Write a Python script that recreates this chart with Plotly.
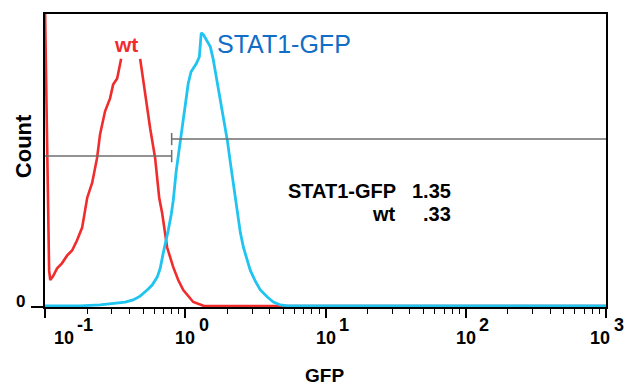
import math
import plotly.graph_objects as go

# ---------------- data ----------------
wt_gfp = [0.100, 0.107, 0.109, 0.114, 0.122, 0.132, 0.144, 0.156, 0.169, 0.184,
          0.200, 0.217, 0.235, 0.247, 0.268, 0.291, 0.306, 0.327, 0.349, 0.405,
          0.477, 0.518, 0.562, 0.610, 0.652, 0.685, 0.743, 0.821, 0.891, 0.968,
          1.14, 1.35, 1.64, 1000]
wt_count = [102, 12.5, 9.2, 10.5, 13.2, 14.9, 17.6, 19.3, 22.7, 27.1,
            37.3, 42.4, 50.8, 59.0, 66.8, 71.2, 75.9, 78.0, 84.7, None,
            84.7, 72.5, 61.0, 50.8, 37.3, 31.9, 20.3, 13.6, 9.2, 5.8,
            1.7, 0.4, 0.3, 0.3]

stat1_gfp = [0.100, 0.178, 0.247, 0.291, 0.327, 0.373, 0.425, 0.477, 0.535, 0.581,
             0.631, 0.663, 0.696, 0.732, 0.756, 0.794, 0.821, 0.862, 0.921, 0.968,
             1.00, 1.05, 1.10, 1.20, 1.26, 1.30, 1.35, 1.44, 1.51, 1.58,
             1.72, 1.87, 2.00, 2.09, 2.20, 2.35, 2.47, 2.60, 2.77, 2.91,
             3.16, 3.43, 3.85, 4.25, 4.77, 5.36, 6.63, 1000]
stat1_count = [0.4, 0.4, 0.7, 1.0, 1.4, 1.7, 2.4, 3.7, 5.8, 7.5,
               10.2, 13.2, 18.3, 22.7, 26.1, 31.5, 36.3, 46.4, 56.6, 64.1,
               70.2, 76.3, 80.3, 83.1, 85.4, 93.6, 92.9, 90.8, 88.8, 84.7,
               74.6, 64.4, 56.6, 49.8, 42.4, 31.2, 25.4, 20.3, 15.9, 12.5,
               8.8, 5.8, 3.4, 1.7, 0.7, 0.4, 0.4, 0.4]

# gates: name, low, high, level (count units), cap position
gate_names = ["wt", "STAT1-GFP"]
gate_low = [0.1, 0.8]
gate_high = [0.8, 1000]
gate_level = [51.5, 57.3]
gate_cap_at = [0.8, 0.8]

stat_names = ["STAT1-GFP", "wt"]
stat_values = ["1.35", ".33"]

tick_vals = [0.1, 1, 10, 100, 1000]
tick_base = ["10", "10", "10", "10", "10"]
tick_exp = ["-1", "0", "1", "2", "3"]
minor_vals = [m * d for d in (0.1, 1, 10, 100) for m in range(2, 10)]

# ---------------- style ----------------
RED = "#f02c2c"
CYAN = "#20c4f0"
BLUE = "#106ec6"
GATE = "#6e6e6e"
FONT = "Arial, Liberation Sans, Helvetica, sans-serif"
CAP_HALF = 2.1

fig = go.Figure()
fig.add_trace(go.Scatter(x=wt_gfp, y=wt_count, mode="lines",
                         line=dict(color=RED, width=2.6), connectgaps=False,
                         hoverinfo="skip", showlegend=False))
fig.add_trace(go.Scatter(x=stat1_gfp, y=stat1_count, mode="lines",
                         line=dict(color=CYAN, width=2.8),
                         hoverinfo="skip", showlegend=False))

gx, gy = [], []
for lo, hi, lv, cap in zip(gate_low, gate_high, gate_level, gate_cap_at):
    gx += [lo, hi, None, cap, cap, None]
    gy += [lv, lv, None, lv - CAP_HALF, lv + CAP_HALF, None]
fig.add_trace(go.Scatter(x=gx, y=gy, mode="lines",
                         line=dict(color=GATE, width=1.5),
                         hoverinfo="skip", showlegend=False))

ann = []
# tick labels (base + same-size exponent)
base_shift = [19, 0, 0, 0, -6]
exp_shift = [40, 19, 18, 18, 13]
for v, b, e, bs, es in zip(tick_vals, tick_base, tick_exp, base_shift, exp_shift):
    ann.append(dict(x=math.log10(v), xref="x", y=0, yref="paper", text=b,
                    showarrow=False, xanchor="center", yanchor="middle",
                    xshift=bs, yshift=-31,
                    font=dict(family=FONT, size=18, color="black", weight="bold")))
    ann.append(dict(x=math.log10(v), xref="x", y=0, yref="paper", text=e,
                    showarrow=False, xanchor="center", yanchor="middle",
                    xshift=es, yshift=-18,
                    font=dict(family=FONT, size=18, color="black", weight="bold")))

# y zero label
ann.append(dict(x=0, xref="paper", y=0, yref="y", text="0", showarrow=False,
                xanchor="center", yanchor="middle", xshift=-25, yshift=6,
                font=dict(family=FONT, size=17, color="black", weight="bold")))
# axis titles
ann.append(dict(x=0, xref="paper", y=0.549, yref="paper", text="Count",
                showarrow=False, textangle=-90, xanchor="center", yanchor="middle",
                xshift=-22,
                font=dict(family=FONT, size=22, color="black", weight="bold")))
ann.append(dict(x=0.499, xref="paper", y=0, yref="paper", text="GFP",
                showarrow=False, xanchor="center", yanchor="middle", yshift=-68,
                font=dict(family=FONT, size=19, color="black", weight="bold")))
# curve labels
ann.append(dict(x=0.1435, xref="paper", y=0.895, yref="paper", text="wt",
                showarrow=False, xanchor="center", yanchor="middle",
                font=dict(family=FONT, size=21, color=RED, weight="bold")))
ann.append(dict(x=0.303, xref="paper", y=0.898, yref="paper", text="STAT1-GFP",
                showarrow=False, xanchor="left", yanchor="middle",
                font=dict(family=FONT, size=25, color=BLUE)))
# stats
for i, (n, v) in enumerate(zip(stat_names, stat_values)):
    yy = 0.397 - i * 0.078
    ann.append(dict(x=0.629, xref="paper", y=yy, yref="paper", text=n,
                    showarrow=False, xanchor="right", yanchor="middle",
                    font=dict(family=FONT, size=20, color="black", weight="bold")))
    ann.append(dict(x=0.727, xref="paper", y=yy, yref="paper", text=v,
                    showarrow=False, xanchor="right", yanchor="middle",
                    font=dict(family=FONT, size=20, color="black", weight="bold")))

fig.update_layout(
    width=630, height=385,
    margin=dict(l=45, r=24, t=12, b=78),
    paper_bgcolor="white", plot_bgcolor="white",
    annotations=ann,
    xaxis=dict(type="log", range=[-1, 3], showgrid=False, zeroline=False,
               showline=True, linecolor="black", linewidth=2, mirror=True,
               tickmode="array", tickvals=tick_vals, showticklabels=False,
               ticks="outside", ticklen=9, tickwidth=1.5, tickcolor="black",
               minor=dict(tickmode="array", tickvals=minor_vals, ticks="outside",
                          ticklen=5, tickwidth=1.3, tickcolor="black",
                          showgrid=False)),
    yaxis=dict(range=[0, 100], showgrid=False, zeroline=False,
               showline=True, linecolor="black", linewidth=2, mirror=True,
               tickmode="array", tickvals=[0], showticklabels=False,
               ticks="outside", ticklen=12, tickwidth=2, tickcolor="black"),
)

fig.write_html("out.html",
               config={"displayModeBar": False},
               post_script="document.body.style.margin='0px';"
                           "document.body.style.overflow='hidden';")
